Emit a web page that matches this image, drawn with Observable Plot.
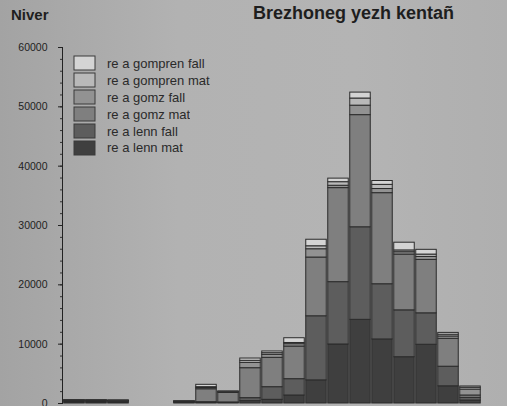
<!DOCTYPE html>
<html>
<head>
<meta charset="utf-8">
<script src="https://cdn.jsdelivr.net/npm/d3@7"></script>
<script src="https://cdn.jsdelivr.net/npm/@observablehq/plot@0.6"></script>
<style>
  html, body { margin: 0; padding: 0; }
  body {
    width: 507px; height: 406px; overflow: hidden;
    background: linear-gradient(to right, #a3a3a3 0%, #b2b2b2 35%, #b4b4b4 70%, #afafaf 100%);
    font-family: "Liberation Sans", Arial, sans-serif;
  }
  #wrap { position: relative; width: 507px; height: 406px; }
  #chart { position: absolute; left: 0; top: 0; }
  .t { position: absolute; font-weight: bold; color: #1e1e1e; white-space: nowrap; line-height: 1; }
  #niver { left: 11px; top: 7px; font-size: 15px; }
  #title { left: 253px; top: 4px; font-size: 18px; }
  .lg-swatches { position: absolute; left: 74px; top: 55px; margin: 0 !important;
    font-family: "Liberation Sans", Arial, sans-serif; font-size: 13px; color: #2a2a2a; }
  .lg-swatches .lg-swatch { height: 16.9px; padding: 0; margin: 0; display: flex; align-items: center; }
  .lg-swatch svg { margin-right: 12px; }
  .lg-swatch svg rect { stroke: #3a3a3a; stroke-width: 1px; }
</style>
</head>
<body>
<div id="wrap">
  <div class="t" id="niver">Niver</div>
  <div class="t" id="title">Brezhoneg yezh kentañ</div>
  <div id="chart"></div>
</div>
<script>
// categories (x axis labels are not visible in the reference)
const categories = ["0-4","5-9","10-14","15-19","20-24","25-29","30-34","35-39","40-44","45-49","50-54","55-59","60-64","65-69","70-74","75-79","80-84","85-89","90-94"];

// series, bottom of stack first
const seriesNames = ["re a lenn mat","re a lenn fall","re a gomz mat","re a gomz fall","re a gompren mat","re a gompren fall"];
const lennMat     = [200, 200, 180, 0, 0, 120,  100,   80,  400,  620, 1350,  3900,  9950, 14100, 10800, 7800, 9900, 2900,  500];
const lennFall    = [150, 140, 130, 0, 0,  80,  120,  100,  500, 2130, 2750, 10800, 10500, 15600,  9300, 7900, 5300, 3300,  450];
const gomzMat     = [120, 120, 110, 0, 0,  90, 2180, 1600, 5050, 4950, 5500,  9900, 15850, 18900, 15350, 9400, 9000, 4700,  400];
const gomzFall    = [ 40,  40,  40, 0, 0,  30,  200,  150,  900,  500,  400,  1400,   400,  1600,   700,  400,  500,  400, 1000];
const gomprenMat  = [ 20,  20,  20, 0, 0,  20,  150,   50,  350,  280,  200,   500,   600,  1200,   700,  300,  400,  300,  300];
const gomprenFall = [ 20,  20,  20, 0, 0,  10,  400,   50,  380,  290,  800,  1100,   600,  1000,   650, 1300,  800,  300,  220];
const seriesValues = [lennMat, lennFall, gomzMat, gomzFall, gomprenMat, gomprenFall];

const seriesColors = ["#3f3f3f", "#5d5d5d", "#7f7f7f", "#929292", "#b9b9b9", "#d4d4d4"];

const yTicks = [0, 10000, 20000, 30000, 40000, 50000, 60000];
const yMinorTicks = d3.range(0, 60001, 2000);

const rows = [];
seriesNames.forEach((s, i) => {
  categories.forEach((c, j) => {
    const v = seriesValues[i][j];
    if (v > 0) rows.push({age: c, series: s, value: v});
  });
});

const chart = Plot.plot({
  width: 507,
  height: 406,
  marginTop: 47,
  marginBottom: 3,
  marginLeft: 62,
  marginRight: 26,
  style: {background: "transparent", fontFamily: "Liberation Sans, Arial, sans-serif", fontSize: "10.5px", color: "#222"},
  x: {domain: categories, padding: 0, axis: null},
  y: {domain: [0, 60000], axis: null},
  color: {domain: seriesNames, range: seriesColors},
  marks: [
    Plot.barY(rows, {x: "age", y: "value", fill: "series", stroke: "#2b2b2b", strokeWidth: 1, insetLeft: 0.75, insetRight: 0.75}),
    Plot.axisY({ticks: yMinorTicks, tickSize: 2, tickFormat: () => "", label: null, stroke: "#333"}),
    Plot.axisY({ticks: yTicks, tickSize: 4, tickPadding: 11, tickFormat: d3.format("d"), label: null, stroke: "#222", fill: "#222"}),
    Plot.frame({anchor: "left", stroke: "#222"})
  ]
});
document.getElementById("chart").appendChild(chart);

const legend = Plot.legend({
  color: {domain: seriesNames.slice().reverse(), range: seriesColors.slice().reverse()},
  legend: "swatches",
  columns: 1,
  swatchWidth: 21,
  swatchHeight: 14,
  className: "lg"
});
document.getElementById("wrap").appendChild(legend);
</script>
</body>
</html>
